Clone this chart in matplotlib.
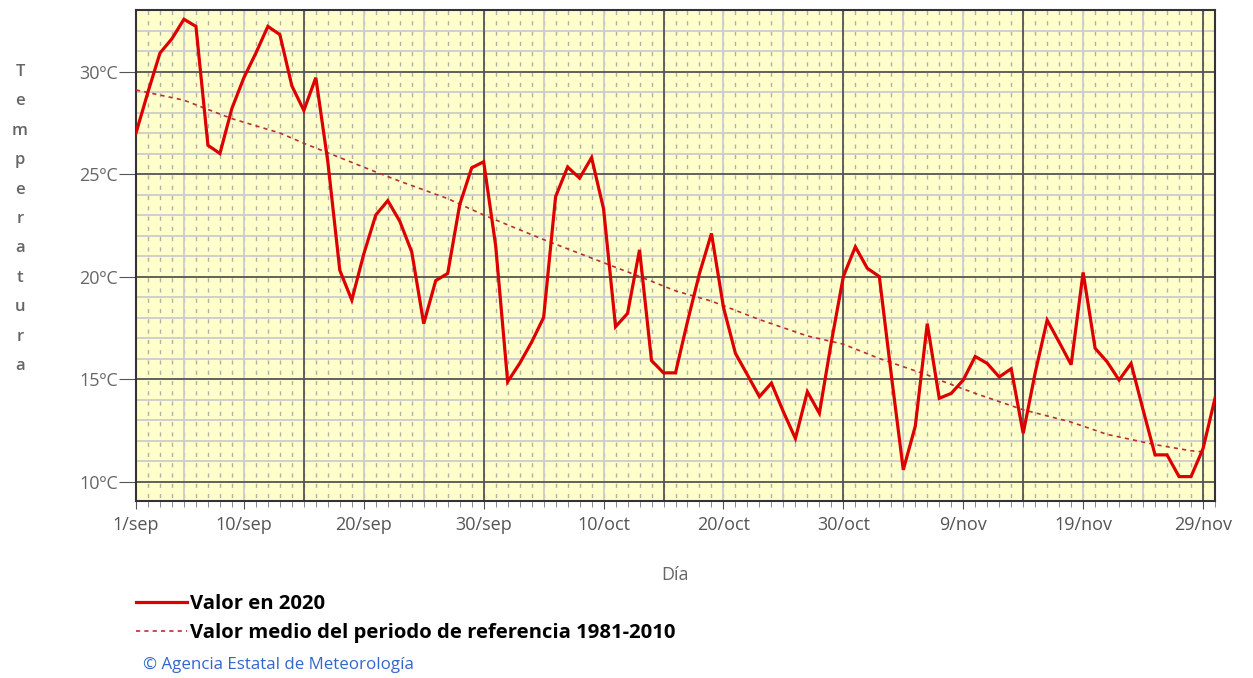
import numpy as np
import matplotlib
matplotlib.use('Agg')
import matplotlib.pyplot as plt

# daily mean temperature, 1 sep (day 0) .. 30 nov (day 90), 2020
t2020 = [27.0, 29.0, 30.9, 31.6, 32.55, 32.2, 26.4, 26.0, 28.2, 29.7,
         30.9, 32.2, 31.8, 29.3, 28.1, 29.7, 25.6, 20.3, 18.85, 21.1,
         23.0, 23.7, 22.7, 21.2, 17.7, 19.8, 20.15, 23.5, 25.3, 25.6,
         21.5, 14.87, 15.76, 16.8, 18.0, 23.9, 25.34, 24.8, 25.8, 23.3,
         17.55, 18.2, 21.3, 15.9, 15.3, 15.3, 17.8, 20.15, 22.1, 18.5,
         16.25, 15.2, 14.14, 14.8, 13.4, 12.1, 14.38, 13.33, 16.8, 20.0,
         21.45, 20.4, 20.0, 15.2, 10.57, 12.7, 17.7, 14.06, 14.3, 14.95,
         16.1, 15.76, 15.1, 15.5, 12.35, 15.3, 17.87, 16.8, 15.7, 20.2,
         16.5, 15.84, 14.95, 15.76, 13.5, 11.3, 11.3, 10.24, 10.24, 11.6,
         14.06]

# reference period 1981-2010 (values read at these days)
ref_days = [0, 4, 8, 12, 14, 17, 20, 22, 26, 29, 34, 38, 42, 45, 48, 52,
            56, 59, 62, 66, 67, 70, 74, 78, 81, 85, 88, 89]
ref_vals = [29.1, 28.6, 27.7, 27.0, 26.5, 25.8, 25.1, 24.65, 23.8, 23.0,
            21.8, 20.9, 20.0, 19.3, 18.8, 17.9, 17.1, 16.7, 16.0, 15.2,
            14.95, 14.3, 13.5, 12.9, 12.3, 11.8, 11.5, 11.45]

x_tick_days = [0, 9, 19, 29, 39, 49, 59, 69, 79, 89]
x_tick_labels = ['1/sep', '10/sep', '20/sep', '30/sep', '10/oct', '20/oct',
                 '30/oct', '9/nov', '19/nov', '29/nov']
y_ticks = [10, 15, 20, 25, 30]
y_tick_labels = ['10ºC', '15ºC', '20ºC', '25ºC', '30ºC']

W, H = 1253, 678
fig = plt.figure(figsize=(W / 100, H / 100), dpi=100)
ax = fig.add_axes([136 / W, 1 - 501 / H, (1215 - 136) / W, (501 - 10) / H])
ax.set_facecolor('#ffffcc')
ax.set_xlim(0, 90)
ax.set_ylim(9.05, 33)

# grid: dashed daily marks, light lines, dark lines
for d in range(1, 90):
    ax.axvline(d, color='#b0b0a8', lw=1.0, ls=(5.0, (3.0, 4.4)), zorder=0)
for v in range(10, 33):
    if v % 5:
        ax.axhline(v, color='#cccccc', lw=1.3, zorder=0.5)
    else:
        ax.axhline(v, color='#555555', lw=1.3, zorder=1)
for d in range(4, 90, 5):
    if (d - 14) % 15:
        ax.axvline(d, color='#cccccc', lw=1.3, zorder=0.5)
    else:
        ax.axvline(d, color='#555555', lw=1.3, zorder=1)

days = np.arange(len(t2020))
l1, = ax.plot(days, t2020, color='#dd0000', lw=2.3, zorder=4,
              solid_joinstyle='miter')
l2, = ax.plot(ref_days, ref_vals, color='#b83030', lw=1.2, ls=(0, (2.5, 2.5)),
              zorder=3)

for s in ax.spines.values():
    s.set_color('#333333')
    s.set_linewidth(1.5)

ax.set_xticks(x_tick_days)
ax.set_xticklabels(x_tick_labels)
ax.set_xticks(range(91), minor=True)
ax.set_yticks(y_ticks)
ax.set_yticklabels(y_tick_labels)
ax.tick_params(axis='x', which='major', length=6, color='#555555',
               labelsize=13, labelcolor='#555555', pad=5)
ax.tick_params(axis='x', which='minor', length=4, color='#777777')
ax.tick_params(axis='y', which='major', length=12, color='#555555',
               labelsize=13, labelcolor='#666666', pad=1)
for lab in ax.get_xticklabels() + ax.get_yticklabels():
    lab.set_family('Open Sans')

fig.text(20 / W, 1 - 219 / H, '\n'.join('Temperatura'), ha='center',
         va='center', ma='center', fontsize=12, color='#666666',
         linespacing=2.12, family='Open Sans', fontweight='semibold')
fig.text(675 / W, 1 - 575 / H, 'Día', ha='center', va='center',
         fontsize=13, color='#666666', family='Open Sans')

leg = fig.legend([l1, l2],
                 ['Valor en 2020', 'Valor medio del periodo de referencia 1981-2010'],
                 loc='upper left', bbox_to_anchor=(128 / W, 1 - 586 / H),
                 frameon=False, handlelength=2.5, handletextpad=0.15,
                 labelspacing=0.42, borderaxespad=0,
                 prop={'family': 'Open Sans', 'weight': 'bold', 'size': 14.6})
fig.text(143 / W, 1 - 665 / H, '© Agencia Estatal de Meteorología',
         ha='left', va='center', fontsize=12.2, color='#3366cc',
         family='Open Sans')

fig.savefig('out.png', dpi=100, facecolor='white')
